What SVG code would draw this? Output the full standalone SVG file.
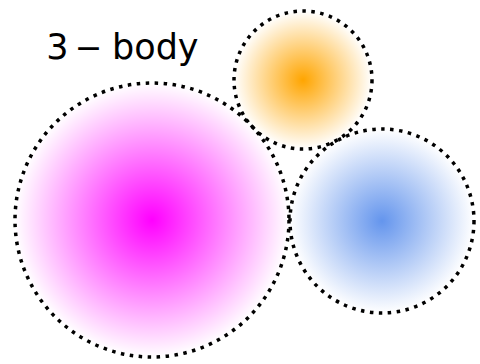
<svg xmlns="http://www.w3.org/2000/svg" width="480" height="364" viewBox="0 0 480 364">
<style>
.ring{stroke:#000;stroke-width:3.5;stroke-dasharray:3.5 5.5}
.lbl{font-family:"DejaVu Sans",sans-serif;font-size:35px;fill:#000}
</style>
<defs>
<radialGradient id="gm"><stop offset="0" stop-color="#ff00ff"/><stop offset="1" stop-color="#ff00ff" stop-opacity="0"/></radialGradient>
<radialGradient id="go"><stop offset="0" stop-color="#ffa500"/><stop offset="1" stop-color="#ffa500" stop-opacity="0"/></radialGradient>
<radialGradient id="gb"><stop offset="0" stop-color="#6495ed"/><stop offset="1" stop-color="#6495ed" stop-opacity="0"/></radialGradient>
</defs>
<rect width="480" height="364" fill="#fff"/>
<g id="body1"><circle cx="152" cy="220" r="137" fill="url(#gm)" class="ring"/></g>
<g id="body2"><circle cx="303" cy="80" r="69" fill="url(#go)" class="ring"/></g>
<g id="body3"><circle cx="382" cy="221" r="92" fill="url(#gb)" class="ring"/></g>
<g id="connectors"/>
<text class="lbl" y="59"><tspan x="57.5" text-anchor="middle">3</tspan><tspan x="88.5" text-anchor="middle" font-size="33">−</tspan><tspan x="112">body</tspan></text>
</svg>
